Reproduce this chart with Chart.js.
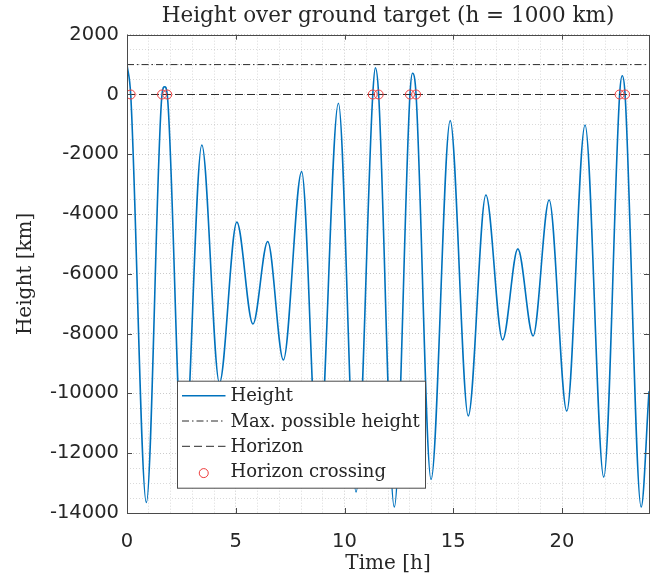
<!DOCTYPE html>
<html><head><meta charset="utf-8">
<script src="https://cdn.jsdelivr.net/npm/chart.js@4.4.0/dist/chart.umd.min.js"></script>
<style>html,body{margin:0;padding:0;background:#fff;}canvas{display:block;}</style>
</head><body>
<canvas id="c" width="666" height="585"></canvas>
<script>
// ---- data ----
const titleText = 'Height over ground target (h = 1000 km)';
const xLabel = 'Time [h]';
const yLabel = 'Height [km]';
const seriesNames = ['Height', 'Max. possible height', 'Horizon', 'Horizon crossing'];

const timeH = [0, 0.17, 0.89, 1.61, 1.73, 1.85, 2.59, 3.44, 4.25, 5.05, 5.79, 6.47, 7.19, 8.03, 8.79, 9.72, 10.53, 11.30, 11.42, 11.57, 12.29, 13.01, 13.13, 13.29, 13.98, 14.86, 15.69, 16.50, 17.27, 17.97, 18.67, 19.41, 20.22, 21.06, 21.92, 22.65, 22.77, 22.90, 23.64, 24.0];
const heightKm = [1000, 0, -13650, 0, 261, 0, -12800, -1690, -9650, -4270, -7680, -4920, -8880, -2580, -12600, -294, -13300, 0, 896, 0, -13800, 0, 708, 0, -12880, -875, -10750, -3360, -8210, -5165, -8075, -3530, -10590, -1020, -12800, 0, 629, 0, -13800, -9930];

const maxTimeH = [0, 24];
const maxHeightKm = [1000, 1000];
const horizonTimeH = [0, 24];
const horizonHeightKm = [0, 0];
const crossTimeH = [0.17, 1.61, 1.85, 11.30, 11.57, 13.01, 13.29, 22.65, 22.90];
const crossHeightKm = [0, 0, 0, 0, 0, 0, 0, 0, 0];

const xTickLabels = [0, 5, 10, 15, 20];
const yTickLabels = [2000, 0, -2000, -4000, -6000, -8000, -10000, -12000, -14000];

// ---- build ----
const pts = (xs, ys) => xs.map((x, i) => ({x: x, y: ys[i]}));
const INK = '#262626';
const SERIF = "'DejaVu Serif', serif";
const SANS = "'DejaVu Sans', sans-serif";

const matlabFrame = {
  id: 'matlabFrame',
  afterLayout(chart) {
    const a = chart.chartArea;
    if (chart.titleBlock) { chart.titleBlock.left = a.left; chart.titleBlock.right = a.right; }
  },
  afterDatasetsDraw(chart) {
    const {ctx, chartArea: a, scales} = chart;
    ctx.save();
    ctx.strokeStyle = '#4a4a4a';
    ctx.lineWidth = 1;
    ctx.setLineDash([]);
    const tl = 5;
    ctx.beginPath();
    xTickLabels.forEach(v => {
      const x = Math.round(scales.x.getPixelForValue(v)) + 0.5;
      ctx.moveTo(x, a.bottom); ctx.lineTo(x, a.bottom - tl);
      ctx.moveTo(x, a.top); ctx.lineTo(x, a.top + tl);
    });
    yTickLabels.forEach(v => {
      const y = Math.round(scales.y.getPixelForValue(v)) + 0.5;
      ctx.moveTo(a.left, y); ctx.lineTo(a.left + tl, y);
      ctx.moveTo(a.right, y); ctx.lineTo(a.right - tl, y);
    });
    ctx.stroke();
    ctx.strokeRect(Math.round(a.left) + 0.5, Math.round(a.top) + 0.5, Math.round(a.right - a.left), Math.round(a.bottom - a.top));
    ctx.restore();
  },
  afterDraw(chart) {
    const {ctx, chartArea: a} = chart;
    const box = {x: a.left + 50.5, y: a.top + 346.5, w: 248, h: 107};
    ctx.save();
    ctx.fillStyle = '#fff';
    ctx.fillRect(box.x, box.y, box.w, box.h);
    ctx.strokeStyle = '#4a4a4a';
    ctx.lineWidth = 1;
    ctx.strokeRect(box.x, box.y, box.w, box.h);
    ctx.font = "18px " + SERIF;
    ctx.textBaseline = 'alphabetic';
    ctx.fillStyle = INK;
    chart.data.datasets.forEach((ds, i) => {
      const cy = box.y + 14.5 + i * 25.3;
      const x0 = box.x + 4.5, x1 = box.x + 48;
      if (ds.showLine === false) {
        ctx.beginPath();
        ctx.setLineDash([]);
        ctx.strokeStyle = ds.borderColor;
        ctx.lineWidth = ds.borderWidth;
        ctx.arc((x0 + x1) / 2, cy + 1.5, ds.pointRadius, 0, Math.PI * 2);
        ctx.stroke();
      } else {
        ctx.beginPath();
        ctx.setLineDash(ds.borderDash || []);
        ctx.strokeStyle = ds.borderColor;
        ctx.lineWidth = ds.borderWidth;
        ctx.moveTo(x0, cy); ctx.lineTo(x1, cy);
        ctx.stroke();
      }
      ctx.setLineDash([]);
      ctx.fillText(ds.label, box.x + 53, cy + 5.5);
    });
    ctx.restore();
  }
};

new Chart(document.getElementById('c'), {
  type: 'line',
  data: {
    datasets: [
      {label: seriesNames[0], data: pts(timeH, heightKm), borderColor: '#0072BD', borderWidth: 1.6,
       pointRadius: 0, cubicInterpolationMode: 'monotone', order: 4},
      {label: seriesNames[1], data: pts(maxTimeH, maxHeightKm), borderColor: '#2a2a2a', borderWidth: 1,
       borderDash: [7, 3, 1.5, 3], pointRadius: 0, order: 3},
      {label: seriesNames[2], data: pts(horizonTimeH, horizonHeightKm), borderColor: '#2a2a2a', borderWidth: 1,
       borderDash: [8, 4], pointRadius: 0, order: 2},
      {label: seriesNames[3], data: pts(crossTimeH, crossHeightKm), showLine: false, borderColor: '#ee3b3b',
       backgroundColor: 'rgba(0,0,0,0)', borderWidth: 1, pointRadius: 4.5, pointHoverRadius: 4.5, order: 1}
    ]
  },
  options: {
    responsive: false,
    animation: false,
    devicePixelRatio: 1,
    layout: {padding: {left: 0, right: 16, top: 0, bottom: 0}},
    plugins: {
      legend: {display: false},
      tooltip: {enabled: false},
      title: {display: true, text: titleText, color: INK,
              font: {family: SERIF, size: 21.5, weight: 'normal', lineHeight: 1.2},
              padding: {top: 3.4, bottom: 5.5}}
    },
    scales: {
      x: {
        type: 'linear', min: 0, max: 24,
        afterFit: s => { s.height = 72; },
        ticks: {stepSize: 1, autoSkip: false, maxRotation: 0, padding: 17, color: INK,
                font: {family: SANS, size: 19.5},
                callback: v => xTickLabels.includes(v) ? String(v) : ''},
        grid: {drawTicks: false,
               color: c => xTickLabels.includes(c.tick.value) ? 'rgba(38,38,38,0.24)' : 'rgba(38,38,38,0.17)'},
        border: {display: false, dash: [1, 2]},
        title: {display: true, text: xLabel, color: INK, font: {family: SERIF, size: 20}, padding: {top: 0, bottom: 9}}
      },
      y: {
        type: 'linear', min: -14000, max: 2000,
        afterFit: s => { s.width = 127; },
        ticks: {stepSize: 500, autoSkip: false, padding: 8, color: INK,
                font: {family: SANS, size: 19.5},
                callback: v => yTickLabels.includes(v) ? String(v) : ''},
        grid: {drawTicks: false,
               color: c => yTickLabels.includes(c.tick.value) ? 'rgba(38,38,38,0.24)' : 'rgba(38,38,38,0.17)'},
        border: {display: false, dash: [1, 2]},
        title: {display: true, text: yLabel, color: INK, font: {family: SERIF, size: 20}, padding: {top: 14, bottom: 0}}
      }
    }
  },
  plugins: [matlabFrame]
});
</script>
</body></html>
